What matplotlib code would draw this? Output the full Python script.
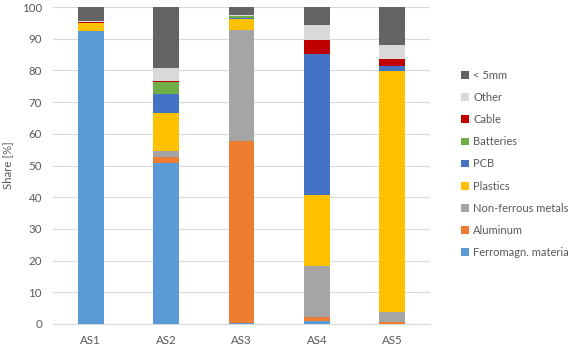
import matplotlib
matplotlib.use("Agg")
import matplotlib.pyplot as plt
import numpy as np

plt.rcParams['font.family'] = ['Lato', 'DejaVu Sans']

categories = ["AS1", "AS2", "AS3", "AS4", "AS5"]
series_names = ["Ferromagn. materia", "Aluminum", "Non-ferrous metals", "Plastics",
                "PCB", "Batteries", "Cable", "Other", "< 5mm"]
ferro = [92.3, 50.7, 0.3, 1.0, 0.0]
aluminum = [0.0, 2.1, 57.3, 1.3, 0.5]
nonferrous = [0.0, 1.9, 35.2, 16.1, 3.2]
plastics = [2.7, 11.8, 3.3, 22.3, 76.0]
pcb = [0.0, 5.9, 0.5, 44.4, 1.6]
batteries = [0.0, 3.9, 0.5, 0.0, 0.0]
cable = [0.3, 0.5, 0.0, 4.6, 2.4]
other = [0.3, 3.9, 0.5, 4.7, 4.4]
fines = [4.4, 19.3, 2.4, 5.6, 11.9]
colors = ["#5B9BD5", "#ED7D31", "#A5A5A5", "#FFC000", "#4472C4",
          "#70AD47", "#C00000", "#D9D9D9", "#636363"]

data = [ferro, aluminum, nonferrous, plastics, pcb, batteries, cable, other, fines]

fig = plt.figure(figsize=(5.76, 3.48), dpi=100)
ax = fig.add_axes([53/576, 1-324/348, (430-53)/576, (324-7)/348])

x = np.arange(len(categories))
bottom = np.zeros(len(categories))
handles = []
for name, vals, c in zip(series_names, data, colors):
    h = ax.bar(x, vals, 0.34, bottom=bottom, color=c, label=name, zorder=3)
    handles.append(h)
    bottom += np.array(vals)

ax.set_ylim(0, 100)
ax.set_xlim(-0.5, len(categories) - 0.5)
ax.set_yticks(np.arange(0, 101, 10))
ax.set_xticks(x)
ax.set_xticklabels(categories)
ax.yaxis.grid(True, color="#D9D9D9", linewidth=0.8, zorder=0)
for s in ["top", "right", "left"]:
    ax.spines[s].set_visible(False)
ax.spines["bottom"].set_color("#D9D9D9")
ax.tick_params(axis="both", length=0, colors="#595959", labelsize=8.3)
ax.tick_params(axis="x", pad=8)
ax.tick_params(axis="y", pad=8)
ax.set_ylabel("Share [%]", color="#595959", fontsize=8.3, labelpad=6)

leg = fig.legend(handles[::-1], series_names[::-1], loc="upper left",
                 bbox_to_anchor=(451/576, 1-60/348), frameon=False,
                 fontsize=8.0, handlelength=0.7, handleheight=0.7,
                 handletextpad=0.4, labelspacing=1.0, labelcolor="#595959")

fig.savefig("out.png", dpi=100)
